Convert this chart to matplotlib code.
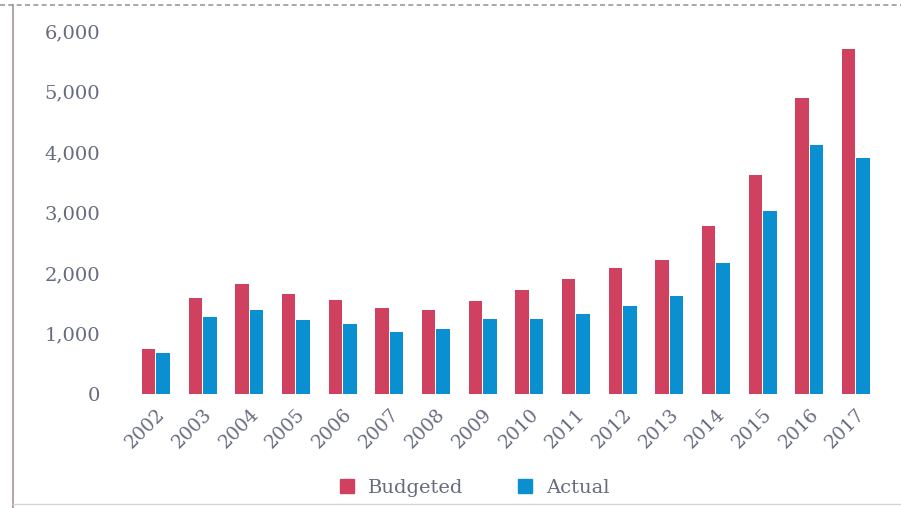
import matplotlib
matplotlib.use("Agg")
import matplotlib.pyplot as plt
import numpy as np
from matplotlib.lines import Line2D

years = ["2002", "2003", "2004", "2005", "2006", "2007", "2008", "2009",
         "2010", "2011", "2012", "2013", "2014", "2015", "2016", "2017"]
budgeted = [750, 1590, 1820, 1655, 1555, 1425, 1390, 1540,
            1720, 1900, 2085, 2220, 2780, 3625, 4885, 5710]
actual = [680, 1275, 1390, 1225, 1160, 1025, 1075, 1240,
          1240, 1325, 1455, 1620, 2170, 3030, 4120, 3900]
yticks = [0, 1000, 2000, 3000, 4000, 5000, 6000]

c_b = "#d0405f"
c_a = "#0a8fd0"
tc = "#676b80"

fig = plt.figure(figsize=(9.01, 5.08), dpi=100)
ax = fig.add_axes([0.142, 0.224, 0.839, 0.715])
x = np.arange(len(years))
w = 0.29
ax.bar(x - 0.155, budgeted, w, color=c_b, label="Budgeted")
ax.bar(x + 0.155, actual, w, color=c_a, label="Actual")
ax.set_xlim(-0.6, 15.6)
ax.set_ylim(0, 6000)
ax.set_yticks(yticks)
ax.set_yticklabels([f"{v:,}" for v in yticks], family="DejaVu Serif",
                   fontsize=14, color=tc)
ax.set_xticks(x)
ax.set_xticklabels(years, rotation=45, ha="right", rotation_mode="anchor",
                   family="DejaVu Serif", fontsize=13.5, color=tc)
ax.tick_params(axis="both", length=0)
ax.tick_params(axis="y", pad=20)
ax.tick_params(axis="x", pad=8)
for s in ax.spines.values():
    s.set_visible(False)

leg = fig.legend(handles=[
    Line2D([], [], marker="s", ls="", color=c_b, markersize=10, label="Budgeted"),
    Line2D([], [], marker="s", ls="", color=c_a, markersize=10, label="Actual")],
    loc="center", bbox_to_anchor=(0.52, 0.04), ncol=2, frameon=False,
    handletextpad=0.05, columnspacing=2.2,
    prop={"family": "DejaVu Serif", "size": 14})
for t in leg.get_texts():
    t.set_color(tc)

# frame decorations of the scan
fig.add_artist(Line2D([0.014, 0.014], [0.0, 0.99], transform=fig.transFigure,
                      color="#b0a8ac", lw=1.5))
fig.add_artist(Line2D([0.0, 1.0], [0.99, 0.99], transform=fig.transFigure,
                      color="#999999", lw=1.2, ls=(0, (3, 2))))
fig.add_artist(Line2D([0.014, 1.0], [0.008, 0.008], transform=fig.transFigure,
                      color="#d8d4d6", lw=1.0))

fig.savefig("out.png", dpi=100)
